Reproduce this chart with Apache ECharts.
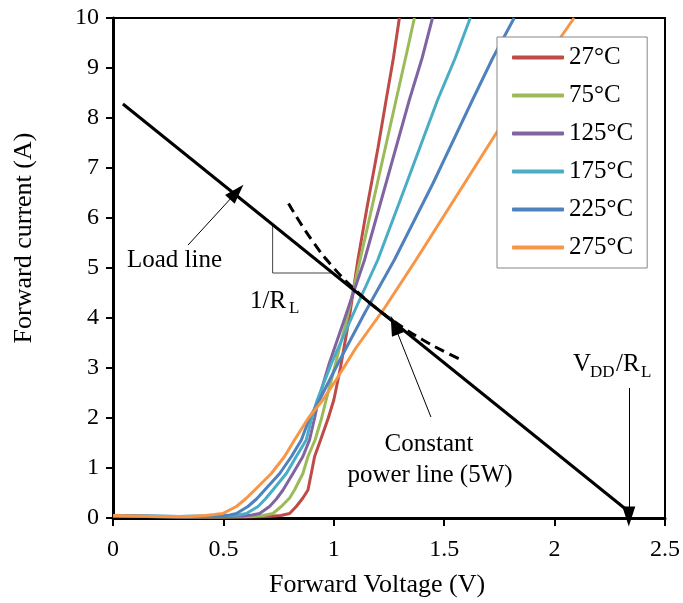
<!DOCTYPE html>
<html><head><meta charset="utf-8">
<script src="https://cdn.jsdelivr.net/npm/echarts@6/dist/echarts.min.js"></script>
<style>html,body{margin:0;padding:0;background:#fff}#c{width:683px;height:603px}</style>
</head><body><div id="c"></div>
<script>
const xTickLabels = ['0','0.5','1','1.5','2','2.5'];
const yTickLabels = ['0','1','2','3','4','5','6','7','8','9','10'];
const seriesNames = ['27°C','75°C','125°C','175°C','225°C','275°C'];
const seriesColors = ['#BE4B48','#9BBB59','#8064A2','#4BACC6','#4F81BD','#F79646'];

const iv27 = [[0,0.04],[0.2,0.03],[0.4,0.02],[0.6,0.02],[0.7,0.03],[0.76,0.05],[0.80,0.09],[0.83,0.23],[0.86,0.4],[0.883,0.56],[0.898,0.89],[0.913,1.23],[0.94,1.56],[0.975,2.0],[1.0,2.36],[1.03,3.0],[1.07,4.0],[1.109,5.16],[1.15,6.2],[1.2,7.4],[1.237,8.36],[1.27,9.2],[1.297,10]];
const iv75 = [[0,0.04],[0.3,0.02],[0.5,0.02],[0.62,0.03],[0.68,0.05],[0.724,0.09],[0.762,0.23],[0.80,0.4],[0.822,0.56],[0.86,0.89],[0.883,1.23],[0.915,1.56],[0.945,2.0],[0.965,2.36],[1.0,2.95],[1.06,4.0],[1.119,5.16],[1.2,6.75],[1.282,8.36],[1.33,9.3],[1.365,10]];
const iv125 = [[0,0.04],[0.3,0.02],[0.5,0.03],[0.58,0.04],[0.63,0.06],[0.664,0.09],[0.709,0.23],[0.74,0.38],[0.77,0.56],[0.815,0.89],[0.86,1.23],[0.89,1.56],[0.913,2.0],[0.93,2.36],[0.98,3.1],[1.05,4.0],[1.139,5.16],[1.24,6.75],[1.342,8.36],[1.4,9.2],[1.447,10]];
const iv175 = [[0,0.05],[0.3,0.03],[0.45,0.04],[0.53,0.05],[0.57,0.06],[0.604,0.09],[0.657,0.23],[0.69,0.38],[0.724,0.56],[0.785,0.89],[0.83,1.23],[0.875,1.56],[0.9,2.0],[0.925,2.36],[0.99,3.1],[1.09,4.1],[1.199,5.16],[1.33,6.7],[1.47,8.36],[1.55,9.2],[1.618,10]];
const iv225 = [[0,0.05],[0.3,0.03],[0.42,0.04],[0.5,0.05],[0.53,0.06],[0.559,0.09],[0.611,0.23],[0.65,0.38],[0.687,0.56],[0.755,0.89],[0.808,1.23],[0.853,1.56],[0.89,2.0],[0.935,2.36],[1.02,3.1],[1.14,4.1],[1.274,5.16],[1.45,6.7],[1.628,8.36],[1.72,9.2],[1.817,10]];
const iv275 = [[0,0.05],[0.2,0.03],[0.35,0.03],[0.42,0.05],[0.46,0.07],[0.497,0.09],[0.559,0.23],[0.6,0.38],[0.642,0.56],[0.717,0.89],[0.777,1.23],[0.822,1.56],[0.885,2.0],[0.95,2.36],[1.01,2.76],[1.1,3.4],[1.23,4.2],[1.372,5.16],[1.55,6.4],[1.726,7.63],[1.9,8.8],[2.088,10]];
const ivCurves = [iv27, iv75, iv125, iv175, iv225, iv275];

const loadLine = [[0.045,8.28],[2.327,0.16]];
const powerLine = [[0.795,6.29],[0.9,5.56],[1.0,5.0],[1.1,4.55],[1.2,4.17],[1.3,3.85],[1.4,3.57],[1.5,3.33],[1.58,3.16]];
const slopeTriangle = [[0.723,5.87],[0.723,4.9],[1.0,4.9]];
const arrowLoad = [[0.34,5.46],[0.56,6.52]];
const arrowPower = [[1.44,2.02],[1.274,3.86]];
const arrowVdd = [[2.336,2.6],[2.336,0.03]];

const FONT = '"Liberation Serif", "Times New Roman", serif';
const chart = echarts.init(document.getElementById('c'));

const series = ivCurves.map((d, i) => ({
  name: seriesNames[i], type: 'line', data: d, showSymbol: false, symbol: 'none',
  lineStyle: { width: 3, color: seriesColors[i] }, itemStyle: { color: seriesColors[i] },
  z: 2, silent: true
}));
const arrowItem = (a) => [{ coord: a[0] }, { coord: a[1] }];
series.push({
  name: 'load', type: 'line', data: loadLine, showSymbol: false, symbol: 'none',
  lineStyle: { width: 3, color: '#000' }, z: 5, silent: true,
  markLine: {
    silent: true, animation: false, symbol: ['none', 'triangle'], symbolSize: [13, 20],
    label: { show: false }, lineStyle: { color: '#000', width: 1, type: 'solid' },
    emphasis: { disabled: true },
    data: [arrowItem(arrowLoad), arrowItem(arrowPower), arrowItem(arrowVdd)]
  }
});
series.push({
  name: 'power', type: 'line', data: powerLine, showSymbol: false, symbol: 'none', smooth: true,
  lineStyle: { width: 3, color: '#000', type: [10, 6] }, z: 6, silent: true
});
series.push({
  name: 'slope', type: 'line', data: slopeTriangle, showSymbol: false, symbol: 'none',
  lineStyle: { width: 1, color: '#444' }, z: 4, silent: true
});

const txt = (text, x, y, size, align, extra) => Object.assign({
  type: 'text', x: x, y: y, silent: true,
  style: { text: text, font: size + 'px ' + FONT, fill: '#000', align: align || 'left', verticalAlign: 'middle',
           textAlign: align || 'left', textVerticalAlign: 'middle' }
}, extra || {});

chart.setOption({
  animation: false,
  backgroundColor: '#fff',
  grid: { left: 113, right: 17, top: 18, bottom: 85, show: true, borderColor: '#000', borderWidth: 2, containLabel: false },
  xAxis: {
    type: 'value', min: 0, max: 2.5, interval: 0.5,
    axisLine: { show: true, onZero: false, lineStyle: { color: '#000', width: 3 } },
    axisTick: { show: true, length: 8, lineStyle: { color: '#000', width: 2 } },
    axisLabel: { color: '#000', fontSize: 24, fontFamily: FONT, margin: 20,
      formatter: (v) => xTickLabels[Math.round(v / 0.5)] },
    splitLine: { show: false }
  },
  yAxis: {
    type: 'value', min: 0, max: 10, interval: 1,
    axisLine: { show: true, onZero: false, lineStyle: { color: '#000', width: 3 } },
    axisTick: { show: true, length: 7, lineStyle: { color: '#000', width: 2 } },
    axisLabel: { color: '#000', fontSize: 24, fontFamily: FONT, margin: 14,
      formatter: (v) => yTickLabels[Math.round(v)] },
    splitLine: { show: false }
  },
  legend: {
    data: seriesNames, orient: 'vertical', left: 497, top: 37,
    padding: [8, 14, 8, 15], itemGap: 13, itemWidth: 52, itemHeight: 4, icon: 'roundRect',
    backgroundColor: '#fff', borderColor: '#868686', borderWidth: 1,
    textStyle: { color: '#000', fontSize: 25, fontFamily: FONT, lineHeight: 25 },
    selectedMode: false, z: 10
  },
  series: series,
  graphic: [
    txt('Forward current (A)', 24, 238, 26, 'center', { rotation: Math.PI / 2 }),
    txt('Forward Voltage (V)', 377, 585, 26, 'center'),
    txt('Load line', 127, 260, 25, 'left'),
    txt('1/R', 250, 301, 25, 'left'),
    txt('L', 289, 309, 17, 'left'),
    txt('Constant', 429, 444, 25, 'center'),
    txt('power line (5W)', 430, 475, 25, 'center'),
    txt('V', 573, 364, 25, 'left'),
    txt('DD', 590, 373, 17, 'left'),
    txt('/R', 616, 364, 25, 'left'),
    txt('L', 641, 373, 17, 'left')
  ]
});
</script></body></html>
